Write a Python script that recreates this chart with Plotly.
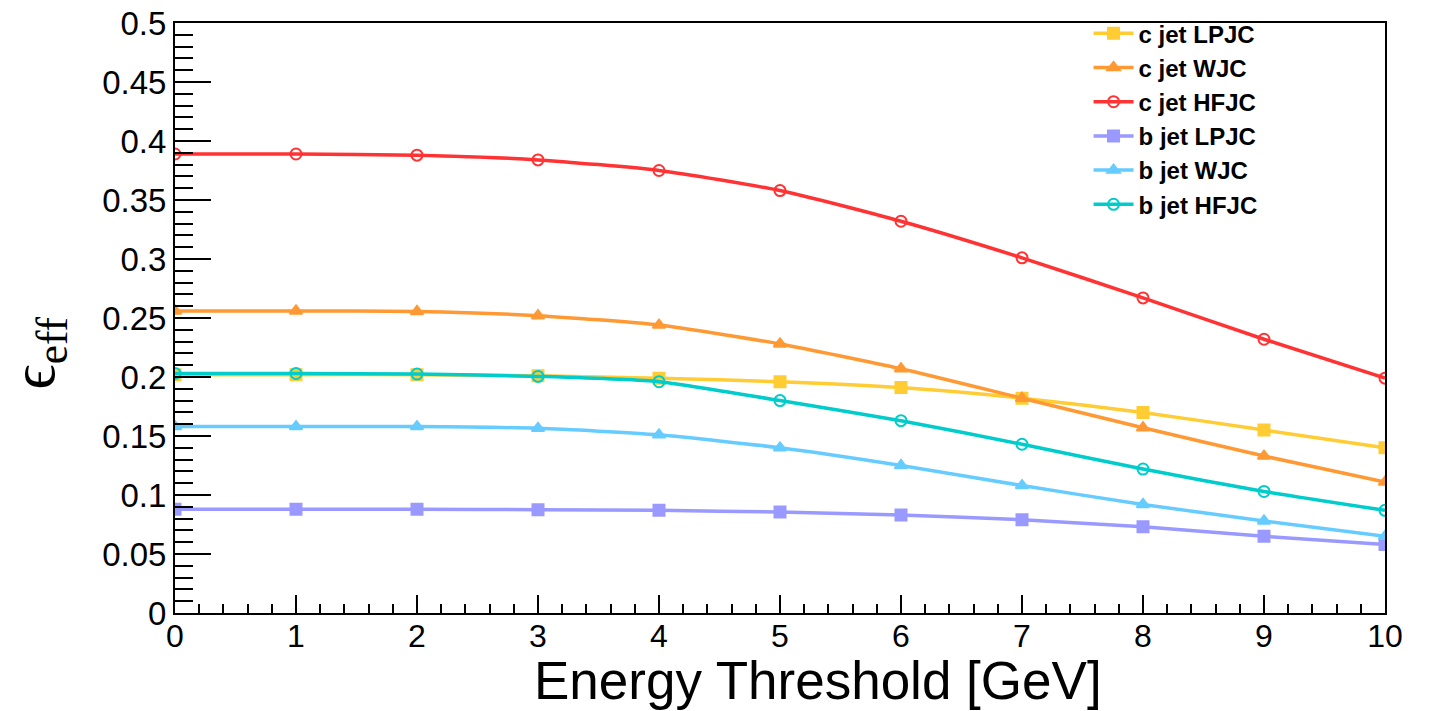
import plotly.graph_objects as go

x_vals = [0, 1, 2, 3, 4, 5, 6, 7, 8, 9, 10]

c_lpjc = [0.202, 0.202, 0.202, 0.201, 0.199, 0.196, 0.191, 0.182, 0.170, 0.155, 0.140]
c_wjc = [0.256, 0.256, 0.2555, 0.252, 0.244, 0.228, 0.207, 0.182, 0.157, 0.133, 0.111]
c_hfjc = [0.389, 0.389, 0.388, 0.384, 0.375, 0.358, 0.332, 0.301, 0.267, 0.232, 0.199]
b_lpjc = [0.088, 0.088, 0.088, 0.0875, 0.087, 0.0855, 0.083, 0.079, 0.073, 0.065, 0.058]
b_wjc = [0.158, 0.158, 0.158, 0.1565, 0.151, 0.140, 0.125, 0.108, 0.092, 0.078, 0.065]
b_hfjc = [0.203, 0.203, 0.2025, 0.2005, 0.196, 0.180, 0.163, 0.143, 0.122, 0.103, 0.087]

series = [
    ("c jet LPJC", c_lpjc, "#FFCC33", "square"),
    ("c jet WJC", c_wjc, "#FF9933", "triangle-up"),
    ("c jet HFJC", c_hfjc, "#FF3333", "circle-open"),
    ("b jet LPJC", b_lpjc, "#9999FF", "square"),
    ("b jet WJC", b_wjc, "#66CCFF", "triangle-up"),
    ("b jet HFJC", b_hfjc, "#00CCCC", "circle-open"),
]

SANS = "Liberation Sans, Arial, Helvetica, sans-serif"

fig = go.Figure()
for name, ys, color, sym in series:
    fig.add_trace(go.Scatter(
        x=x_vals, y=ys, name=name, mode="lines+markers",
        line=dict(color=color, width=3.5, shape="spline", smoothing=0.6),
        marker=dict(symbol=sym, size=11, color=color,
                    line=dict(color=color, width=2)),
    ))

fig.update_layout(
    width=1430, height=711,
    margin=dict(l=175, r=45, t=23, b=98, autoexpand=False),
    plot_bgcolor="white", paper_bgcolor="white",
    font=dict(family=SANS, color="black"),
    legend=dict(
        x=0.755, y=1.02, xanchor="left", yanchor="top",
        font=dict(size=24, family=SANS, color="black", weight="bold"),
        bgcolor="rgba(255,255,255,0)", borderwidth=0,
        itemwidth=40, tracegroupgap=0,
    ),
    showlegend=True,
    annotations=[
        dict(
            text="ϵ<sub>eff</sub>", textangle=-90,
            xref="paper", yref="paper", x=-0.114, y=0.44,
            xanchor="center", yanchor="middle", showarrow=False, borderpad=0,
            font=dict(size=62, family="Liberation Serif, DejaVu Serif, serif", color="black"),
        ),
        dict(
            text="Energy Threshold [GeV]",
            xref="paper", yref="paper", x=0.531, y=-0.114,
            xanchor="center", yanchor="middle", showarrow=False, borderpad=0,
            font=dict(size=53, family=SANS, color="black"),
        ),
    ],
)

fig.update_xaxes(
    range=[0, 10], tickmode="linear", tick0=0, dtick=1, automargin=False,
    showline=True, linecolor="black", linewidth=2, mirror=True,
    ticks="inside", ticklen=18, tickwidth=1.5, tickcolor="black",
    minor=dict(ticks="inside", ticklen=9, dtick=0.2, tick0=0, tickwidth=1.5, tickcolor="black", showgrid=False),
    showgrid=False, zeroline=False,
    ticklabelstandoff=-6,
    tickfont=dict(size=32, family=SANS),
)
fig.update_yaxes(
    range=[0, 0.5], tickmode="linear", tick0=0, dtick=0.05, automargin=False,
    showline=True, linecolor="black", linewidth=2, mirror=True,
    ticks="inside", ticklen=36, tickwidth=1.5, tickcolor="black",
    minor=dict(ticks="inside", ticklen=18, dtick=0.01, tick0=0, tickwidth=1.5, tickcolor="black", showgrid=False),
    showgrid=False, zeroline=False,
    tickformat="~g",
    tickfont=dict(size=33, family=SANS),
)

fig.write_html("out.html")
